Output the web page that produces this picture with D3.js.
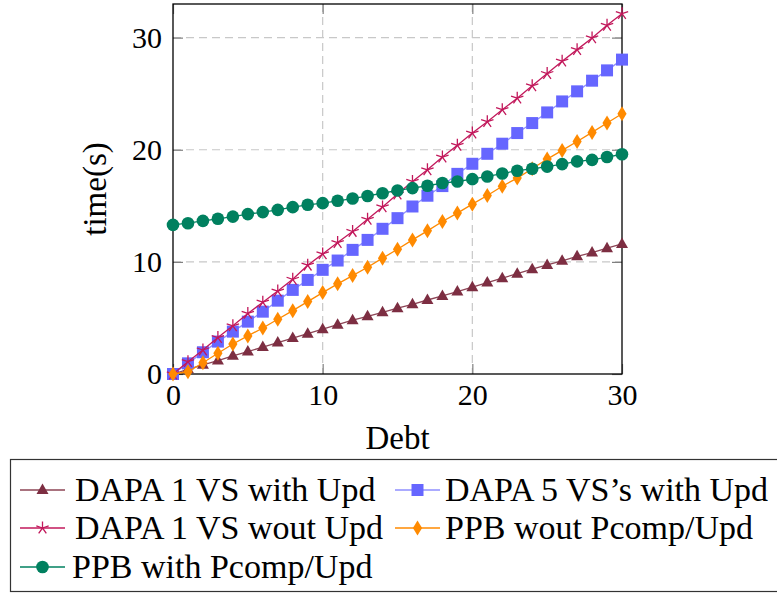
<!DOCTYPE html>
<html>
<head>
<meta charset="utf-8">
<script src="https://cdn.jsdelivr.net/npm/d3@7"></script>
<style>
  body { margin: 0; background: #fff; }
  text { font-family: "Liberation Serif", "Times New Roman", serif; fill: #000; }
</style>
</head>
<body>
<svg id="chart" width="777" height="593"></svg>
<script>
// values, debt = 0..30
var debt = d3.range(0, 31);

var dapa1Upd = [0,0.42,0.82,1.2,1.62,2.0,2.4,2.8,3.2,3.6,4.0,4.4,4.8,5.15,5.5,5.87,6.22,6.6,6.96,7.35,7.74,8.15,8.55,8.95,9.35,9.73,10.09,10.5,10.83,11.22,11.6];
var dapa5Upd = [0,0.95,1.94,2.89,3.78,4.67,5.56,6.54,7.5,8.39,9.29,10.12,11.07,11.96,12.95,13.9,14.94,15.9,16.76,17.85,18.75,19.64,20.54,21.49,22.38,23.33,24.31,25.21,26.16,27.08,28.04];
var dapa1NoUpd = [0,1.1,2.14,3.25,4.3,5.4,6.4,7.4,8.45,9.7,10.71,11.72,12.71,13.8,14.9,16.05,17.17,18.21,19.35,20.4,21.49,22.5,23.57,24.6,25.7,26.8,27.9,28.93,29.97,31.1,32.14];
var ppbNoPcomp = [0,0.2,1.0,1.85,2.68,3.4,4.1,4.88,5.65,6.46,7.26,8.04,8.78,9.52,10.33,11.13,11.96,12.77,13.6,14.35,15.15,15.92,16.75,17.47,18.3,19.17,19.94,20.74,21.55,22.38,23.21];
var ppbPcomp = [13.3,13.45,13.66,13.84,14.04,14.26,14.44,14.64,14.88,15.09,15.24,15.45,15.65,15.88,16.12,16.37,16.58,16.79,17.03,17.17,17.38,17.62,17.88,18.13,18.3,18.5,18.72,18.96,19.1,19.35,19.6];

var seriesNames = ["DAPA 1 VS with Upd", "DAPA 5 VS\u2019s with Upd", "DAPA 1 VS wout Upd", "PPB wout Pcomp/Upd", "PPB with Pcomp/Upd"];
var xTicks = [0, 10, 20, 30];
var yTicks = [0, 10, 20, 30];

var series = [
  {name: seriesNames[0], values: dapa1Upd, color: "#7d2e42", line: "#8c4455", mark: "triangle"},
  {name: seriesNames[1], values: dapa5Upd, color: "#6666ff", line: "#8f8fff", mark: "square"},
  {name: seriesNames[2], values: dapa1NoUpd, color: "#c2185b", line: "#c2185b", mark: "star"},
  {name: seriesNames[3], values: ppbNoPcomp, color: "#ff8a00", line: "#ff8a00", mark: "diamond"},
  {name: seriesNames[4], values: ppbPcomp, color: "#00805f", line: "#00805f", mark: "circle"}
];

var plotLeft = 173, plotTop = 4, width = 449, height = 370;

var svg = d3.select("#chart");
var g = svg.append("g").attr("transform", "translate(" + plotLeft + "," + plotTop + ")");

var x = d3.scaleLinear().domain([0, 30]).range([0, width]);
var y = d3.scaleLinear().domain([0, 33]).range([height, 0]);

// grid
g.append("g")
  .selectAll("line").data(xTicks.slice(1, -1)).enter().append("line")
  .attr("x1", function(d) { return x(d); }).attr("x2", function(d) { return x(d); })
  .attr("y1", 0).attr("y2", height)
  .attr("stroke", "#c8c8c8").attr("stroke-width", 1.2).attr("stroke-dasharray", "8,5");
g.append("g")
  .selectAll("line").data(yTicks.slice(1)).enter().append("line")
  .attr("x1", 0).attr("x2", width)
  .attr("y1", function(d) { return y(d); }).attr("y2", function(d) { return y(d); })
  .attr("stroke", "#c8c8c8").attr("stroke-width", 1.2).attr("stroke-dasharray", "8,5");

// axes, ticks point inwards
g.append("g").attr("transform", "translate(0," + height + ")")
  .call(d3.axisBottom(x).tickValues(xTicks).tickSize(-10).tickPadding(10));
g.append("g")
  .call(d3.axisLeft(y).tickValues(yTicks).tickSize(-10).tickPadding(11));
g.append("g").call(d3.axisTop(x).tickValues(xTicks).tickSize(-10).tickFormat(""));
g.append("g").attr("transform", "translate(" + width + ",0)")
  .call(d3.axisRight(y).tickValues(yTicks).tickSize(-10).tickFormat(""));

g.selectAll(".domain").remove();
g.selectAll(".tick line").attr("stroke", "#808080").attr("stroke-width", 1.2);
g.selectAll(".tick text").attr("font-size", 30).attr("font-family", "Liberation Serif, serif").attr("fill", "#000");

g.append("rect").attr("x", 0).attr("y", 0).attr("width", width).attr("height", height)
  .attr("fill", "none").attr("stroke", "#000").attr("stroke-width", 1.3);

// axis titles
svg.append("text").attr("x", plotLeft + width / 2).attr("y", 449)
  .attr("text-anchor", "middle").attr("font-size", 33).text("Debt");
svg.append("text").attr("transform", "translate(106," + (plotTop + height / 2) + ") rotate(-90)")
  .attr("text-anchor", "middle").attr("font-size", 33).text("time(s)");

function markPath(type) {
  switch (type) {
    case "triangle": return "M0,-6.5L6,4L-6,4Z";
    case "square": return "M-6,-6H6V6H-6Z";
    case "diamond": return "M0,-7.5L4.6,0L0,7.5L-4.6,0Z";
    case "circle": return d3.symbol().type(d3.symbolCircle).size(Math.PI * 6.3 * 6.3)();
    case "star":
      var p = "";
      for (var k = 0; k < 5; k++) {
        var a = -Math.PI / 2 + k * 2 * Math.PI / 5;
        p += "M0,0L" + (6.5 * Math.cos(a)).toFixed(2) + "," + (6.5 * Math.sin(a)).toFixed(2);
      }
      return p;
  }
}

function drawMark(sel, s) {
  if (s.mark == "star") {
    sel.attr("d", markPath("star")).attr("fill", "none").attr("stroke", s.color).attr("stroke-width", 1.3);
  } else {
    sel.attr("d", markPath(s.mark)).attr("fill", s.color).attr("stroke", "none");
  }
}

var line = d3.line()
  .x(function(d, i) { return x(debt[i]); })
  .y(function(d) { return y(d); });

series.forEach(function(s) {
  var sg = g.append("g");
  sg.append("path").datum(s.values).attr("d", line)
    .attr("fill", "none").attr("stroke", s.line).attr("stroke-width", 1.3);
  sg.selectAll("path.m").data(s.values).enter().append("path")
    .attr("class", "m")
    .attr("transform", function(d, i) { return "translate(" + x(debt[i]) + "," + y(d) + ")"; })
    .call(drawMark, s);
});

// legend, 2 columns, cut by the window edge like the original
var lg = svg.append("g");
lg.append("rect").attr("x", 10.5).attr("y", 459.5).attr("width", 820).attr("height", 132)
  .attr("fill", "#fff").attr("stroke", "#333").attr("stroke-width", 1.2);

var colX = [20, 395];
var rowY = [490, 528, 567];
series.forEach(function(s, i) {
  var cx = colX[i % 2], cy = rowY[Math.floor(i / 2)];
  var e = lg.append("g").attr("transform", "translate(" + cx + "," + cy + ")");
  e.append("line").attr("x1", 0).attr("x2", 45).attr("y1", 0).attr("y2", 0)
    .attr("stroke", s.line).attr("stroke-width", 1.3);
  e.append("path").attr("transform", "translate(22.5,0)").call(drawMark, s);
  e.append("text").attr("x", i % 2 ? 50 : (i == 4 ? 52 : 55)).attr("y", 11)
    .attr("font-size", 34).text(s.name);
});
</script>
</body>
</html>
